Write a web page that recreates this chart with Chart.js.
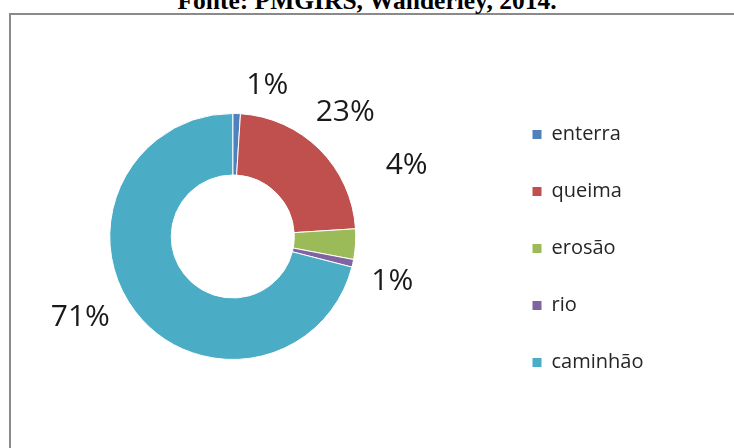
<!DOCTYPE html>
<html>
<head>
<meta charset="utf-8">
<script src="https://cdn.jsdelivr.net/npm/chart.js@4.4.1/dist/chart.umd.min.js"></script>
<style>
  html, body { margin: 0; padding: 0; background: #fff; width: 734px; height: 448px; overflow: hidden; position: relative; }
  #frame { position: absolute; left: 9px; top: 13px; width: 760px; height: 460px;
           border-left: 2px solid #8a8a8a; border-top: 2px solid #8a8a8a; }
  #source { position: absolute; left: 0; top: -12px; width: 734px; text-align: center; white-space: nowrap;
            font: bold 25.5px "Liberation Serif", "Times New Roman", serif; line-height: 25.5px; color: #000; }
  #wrap { position: absolute; left: -40px; top: 0; width: 774px; height: 448px; }
</style>
</head>
<body>
<div id="frame"></div>
<div id="source">Fonte: PMGIRS, Wanderley, 2014.</div>
<div id="wrap"><canvas id="c" width="774" height="448"></canvas></div>
<script>
// Destination of the waste (percent of households)
const categories = ['enterra', 'queima', 'erosão', 'rio', 'caminhão'];
const shares = [1, 23, 4, 1, 71];
const sliceColors = ['#4F81BD', '#C0504D', '#9BBB59', '#8064A2', '#4BACC6'];

// Percent labels: anchored on each slice's mid-angle, then nudged (px) to avoid crowding
const labelNudges = [[29.5, 6.4], [-0.6, -13.4], [14.3, -83.5], [3.4, 7.6], [-26.1, -19.6]];

const LEGEND_FONT = { family: '"Open Sans"', size: 20 };
const LEGEND_BOX = 9;
const LEGEND_PAD = 37;
const CANVAS_W = 774;
const PLOT_RIGHT = 545.5;   // right edge of the plot area, where the legend starts

const sliceLabels = {
  id: 'sliceLabels',
  afterDatasetsDraw(chart, args, opts) {
    const ctx = chart.ctx;
    const meta = chart.getDatasetMeta(0);
    const values = chart.data.datasets[0].data;
    ctx.save();
    ctx.font = opts.font;
    ctx.fillStyle = opts.color;
    ctx.textAlign = 'center';
    ctx.textBaseline = 'alphabetic';
    meta.data.forEach((arc, i) => {
      const p = arc.getProps(['x', 'y', 'startAngle', 'endAngle', 'outerRadius'], true);
      const mid = (p.startAngle + p.endAngle) / 2;
      const r = p.outerRadius * opts.anchorRatio;
      const n = opts.nudges[i] || [0, 0];
      const lx = p.x + Math.cos(mid) * r + n[0];
      const ly = p.y + Math.sin(mid) * r + n[1];
      ctx.fillText(values[i] + '%', lx, ly + opts.capShift);
    });
    ctx.restore();
  }
};

function draw() {
  const canvas = document.getElementById('c');
  // Width the legend will claim, so the plot area ends where the legend should begin
  const mctx = canvas.getContext('2d');
  mctx.font = LEGEND_FONT.size + 'px ' + LEGEND_FONT.family;
  const widest = Math.max(...categories.map(t => mctx.measureText(t).width));
  const legendWidth = LEGEND_PAD + LEGEND_BOX + LEGEND_FONT.size / 2 + widest;
  const padRight = CANVAS_W - PLOT_RIGHT - legendWidth;

  new Chart(canvas, {
    type: 'doughnut',
    data: {
      labels: categories,
      datasets: [{
        data: shares,
        backgroundColor: sliceColors,
        borderColor: '#ffffff',
        borderWidth: 1,
        radius: 123,
        cutout: '50%'
      }]
    },
    options: {
      responsive: false,
      animation: false,
      devicePixelRatio: 1,
      layout: { padding: { left: 10, right: padRight, top: 63.5, bottom: 38.5 } },
      plugins: {
        tooltip: { enabled: false },
        legend: {
          position: 'right',
          align: 'end',
          labels: {
            boxWidth: LEGEND_BOX,
            boxHeight: LEGEND_BOX,
            padding: LEGEND_PAD,
            color: '#262626',
            font: LEGEND_FONT,
            generateLabels(chart) {
              const items = Chart.overrides.doughnut.plugins.legend.labels.generateLabels(chart);
              items.forEach(it => { it.lineWidth = 0; });
              return items;
            }
          }
        },
        sliceLabels: {
          font: '30px "Open Sans"',
          color: '#1a1a1a',
          anchorRatio: 1.3,
          capShift: 10.7,
          nudges: labelNudges
        }
      }
    },
    plugins: [sliceLabels]
  });
}

Promise.all([
  document.fonts.load('20px "Open Sans"'),
  document.fonts.load('30px "Open Sans"'),
  document.fonts.load('bold 25.5px "Liberation Serif"')
]).then(draw, draw);
</script>
</body>
</html>
